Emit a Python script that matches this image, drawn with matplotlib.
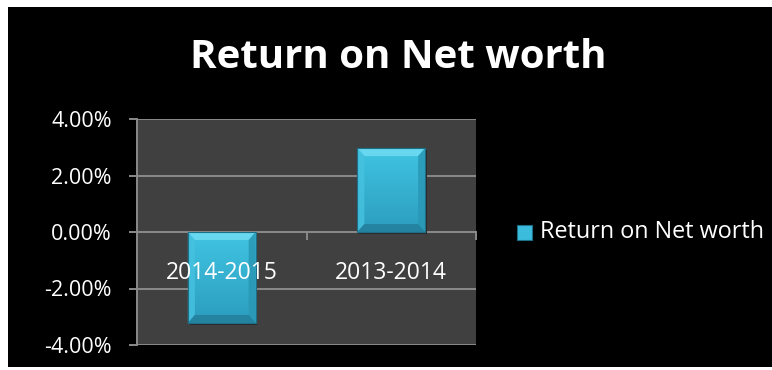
import matplotlib
matplotlib.use("Agg")
import matplotlib.pyplot as plt
import numpy as np
from matplotlib.patches import Rectangle, Polygon
from matplotlib.ticker import FuncFormatter

# Return on net worth (%), by financial year
years = ["2014-2015", "2013-2014"]
returns = [-3.22, 2.97]
series_name = "Return on Net worth"
y_ticks = [-4, -2, 0, 2, 4]

FONT = ["Open Sans", "DejaVu Sans"]
plt.rcParams["font.family"] = FONT

W, H = 772, 370
fig = plt.figure(figsize=(W / 100, H / 100), dpi=100)
fig.patch.set_facecolor("white")
fig.patches.append(Rectangle((8 / W, 3 / H), 1 - 8 / W, 1 - 10 / H,
                             transform=fig.transFigure, facecolor="black",
                             edgecolor="none", zorder=-5))

ax = fig.add_axes([137 / W, 25 / H, (476 - 137) / W, (345 - 119) / H])
ax.set_facecolor("#404040")
ax.set_xlim(-0.5, len(years) - 0.5)
ax.set_ylim(min(y_ticks), max(y_ticks))

grid_c = "#8a8a8a"
for t in y_ticks:
    ax.axhline(t, color=grid_c, lw=1.4, zorder=1)

for s in ["top", "right", "bottom"]:
    ax.spines[s].set_visible(False)
ax.spines["left"].set_color(grid_c)
ax.spines["left"].set_linewidth(1.4)

ax.set_yticks(y_ticks)
ax.yaxis.set_major_formatter(FuncFormatter(lambda v, _: f"{v:.2f}%"))
ax.tick_params(axis="y", colors=grid_c, length=6, width=1.4, pad=12,
               labelcolor="white", labelsize=15.5)
ax.set_xticks([])

# small category-boundary ticks hanging from the zero line
px_per_unit = (345 - 119) / (max(y_ticks) - min(y_ticks))
tick_len = 7 / px_per_unit
for b in np.arange(0.5, len(years), 1.0):
    ax.plot([b, b], [0, -tick_len], color=grid_c, lw=1.4, zorder=1,
            clip_on=False)

bar_w = 0.40
face_top = np.array([0x40, 0xc4, 0xe2]) / 255
face_bot = np.array([0x2c, 0x9d, 0xbe]) / 255
bev_x = 7 / 169.5
bev_y = 8 / px_per_unit

for i, v in enumerate(returns):
    x0, x1 = i - bar_w / 2, i + bar_w / 2
    y0, y1 = min(0, v), max(0, v)
    # soft shadow
    ax.add_patch(Rectangle((x0 + 0.01, y0 - 0.08), bar_w, y1 - y0,
                           facecolor="#2a2a2a", edgecolor="none", zorder=2))
    # gradient face
    grad = np.linspace(0, 1, 64)[:, None, None]
    img = face_top * (1 - grad) + face_bot * grad
    ax.imshow(img, extent=(x0, x1, y0, y1), origin="upper",
              aspect="auto", zorder=3, interpolation="bilinear")
    # bevel facets
    facets = [
        ([(x0, y1), (x1, y1), (x1 - bev_x, y1 - bev_y), (x0 + bev_x, y1 - bev_y)], "#6fdcf2"),
        ([(x0, y1), (x0 + bev_x, y1 - bev_y), (x0 + bev_x, y0 + bev_y), (x0, y0)], "#45c2df"),
        ([(x1, y1), (x1 - bev_x, y1 - bev_y), (x1 - bev_x, y0 + bev_y), (x1, y0)], "#2a97b6"),
        ([(x0, y0), (x0 + bev_x, y0 + bev_y), (x1 - bev_x, y0 + bev_y), (x1, y0)], "#237f9c"),
    ]
    for pts, c in facets:
        ax.add_patch(Polygon(pts, closed=True, facecolor=c, edgecolor="none",
                             alpha=0.85, zorder=4))
    ax.add_patch(Rectangle((x0, y0), bar_w, y1 - y0, facecolor="none",
                           edgecolor="#1d6f88", lw=0.8, zorder=5))

ax.axhline(0, color=grid_c, lw=1.4, zorder=1)

# category labels sit just under the zero line, over the bars
for i, name in enumerate(years):
    ax.annotate(name, xy=(i, 0), xytext=(0, -41 * 0.72),
                textcoords="offset points", ha="center", va="center",
                color="white", fontsize=16.5, zorder=6)

fig.text(398 / W, 1 - 58 / H, "Return on Net worth", ha="center",
         va="center", color="white", fontsize=29, fontweight="bold")

# legend
fig.patches.append(Rectangle((517 / W, 1 - 240 / H), 15 / W, 15 / H,
                             transform=fig.transFigure, facecolor="#3cbcdc",
                             edgecolor="#1d6f88", lw=0.8, zorder=2))
fig.text(540 / W, 1 - 232 / H, series_name, ha="left", va="center",
         color="white", fontsize=16.8)

fig.savefig("out.png", dpi=100, facecolor=fig.get_facecolor())
